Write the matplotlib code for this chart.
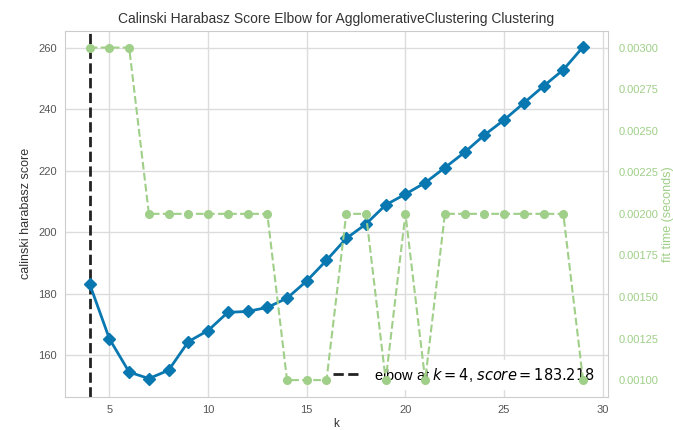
import matplotlib
matplotlib.use("Agg")
import matplotlib.pyplot as plt

k_values = list(range(4, 30))
scores = [183.2, 165.4, 154.6, 152.5, 155.2, 164.5, 168.1, 174.0, 174.3, 175.6,
          178.6, 184.2, 190.9, 198.0, 202.7, 208.9, 212.4, 216.1, 221.0, 226.0,
          231.6, 236.5, 242.0, 247.5, 252.8, 260.2]
fit_times = [0.003, 0.003, 0.003, 0.002, 0.002, 0.002, 0.002, 0.002, 0.002, 0.002,
             0.001, 0.001, 0.001, 0.002, 0.002, 0.001, 0.002, 0.001, 0.002, 0.002,
             0.002, 0.002, 0.002, 0.002, 0.002, 0.001]
elbow_k = 4
elbow_score = 183.218

plt.rcParams['font.family'] = ['Liberation Sans', 'DejaVu Sans']

blue = "#0a78b0"
green = "#9fcf88"
grid_c = "#dcdcdc"
tick_c = "#555555"

fig = plt.figure(figsize=(6.73, 4.30), dpi=100)
ax = fig.add_axes([0.0966, 0.0774, 0.8064, 0.8506])
ax.set_facecolor("white")
ax.plot(k_values, scores, marker="D", color=blue, lw=2, markersize=6, zorder=3)
ax.axvline(elbow_k, color="#222222", ls="--", lw=2,
           label=f"elbow at $k={elbow_k}$, $score={elbow_score}$")
ax.set_xlim(2.75, 30.25)
ax.set_ylim(146.6, 265.4)
ax.set_xticks([5, 10, 15, 20, 25, 30])
ax.set_yticks([160, 180, 200, 220, 240, 260])
ax.grid(True, color=grid_c, lw=1)
ax.set_axisbelow(True)
for s in ax.spines.values():
    s.set_color("#cccccc")
ax.tick_params(colors=tick_c, labelsize=8, length=0, pad=6)
ax.set_xlabel("k", fontsize=8.5, color="#333333", labelpad=2)
ax.set_ylabel("calinski harabasz score", fontsize=9, color="#333333")
ax.set_title("Calinski Harabasz Score Elbow for AgglomerativeClustering Clustering",
             fontsize=10, color="#333333", pad=6)
leg = ax.legend(loc="lower right", fontsize=10.5, frameon=True, framealpha=1,
                edgecolor="white", facecolor="white", borderaxespad=0.5)

ax2 = ax.twinx()
ax2.plot(k_values, fit_times, color=green, ls="--", marker="o", markersize=5.5, lw=1.5)
ax2.set_ylim(0.0009, 0.0031)
ax2.set_yticks([0.001 + 0.00025 * i for i in range(9)])
ax2.yaxis.set_major_formatter(matplotlib.ticker.FormatStrFormatter("%.5f"))
ax2.grid(False)
for s in ax2.spines.values():
    s.set_visible(False)
ax2.tick_params(colors=green, labelsize=8, length=0, pad=8)
ax2.set_ylabel("fit time (seconds)", color=green, fontsize=9, labelpad=2)

fig.savefig("out.png", dpi=100)
